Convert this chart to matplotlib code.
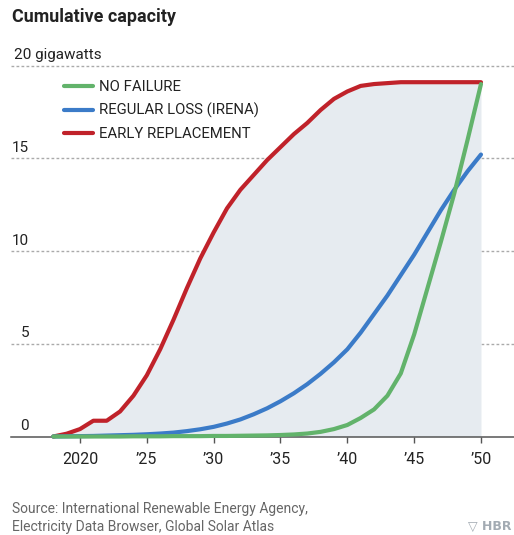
import matplotlib
matplotlib.use("Agg")
import matplotlib.pyplot as plt
import matplotlib.transforms as mtransforms
from matplotlib import font_manager

# yearly cumulative capacity, gigawatts
years = list(range(2018, 2051))
no_failure = [0.0, 0.0, 0.0, 0.0, 0.0, 0.0, 0.01, 0.01, 0.01, 0.02, 0.02,
              0.02, 0.03, 0.03, 0.04, 0.05, 0.06, 0.08, 0.11, 0.16, 0.25,
              0.4, 0.62, 1.0, 1.46, 2.2, 3.4, 5.5, 8.0, 10.5, 13.1, 16.0, 19.0]
regular_loss = [0.0, 0.01, 0.02, 0.03, 0.05, 0.07, 0.09, 0.12, 0.16, 0.21,
                0.29, 0.39, 0.52, 0.7, 0.92, 1.2, 1.52, 1.9, 2.33, 2.82, 3.38,
                4.0, 4.7, 5.6, 6.6, 7.6, 8.7, 9.8, 11.0, 12.2, 13.3, 14.3, 15.2]
early_replacement = [0.0, 0.15, 0.4, 0.85, 0.85, 1.35, 2.2, 3.3, 4.7, 6.3,
                     8.0, 9.6, 11.0, 12.3, 13.3, 14.1, 14.9, 15.6, 16.3, 16.9,
                     17.6, 18.2, 18.6, 18.9, 19.0, 19.05, 19.1, 19.1, 19.1,
                     19.1, 19.1, 19.1, 19.1]

series_names = ["NO FAILURE", "REGULAR LOSS (IRENA)", "EARLY REPLACEMENT"]
series_colors = ["#62b36b", "#3b7bc8", "#c0222a"]

xticks = [2020, 2025, 2030, 2035, 2040, 2045, 2050]
xtick_labels = ["2020", "\u201925", "\u201930", "\u201935", "\u201940",
                "\u201945", "\u201950"]
yticks = [5, 10, 15, 20]
ytick_labels = ["5", "10", "15", "20 gigawatts"]

installed = {f.name for f in font_manager.fontManager.ttflist}
narrow = "Liberation Sans Narrow" if "Liberation Sans Narrow" in installed else "Roboto"
plt.rcParams["font.family"] = ["Roboto", "DejaVu Sans"]

W, H = 514, 535
fig = plt.figure(figsize=(W / 100, H / 100), dpi=100)
ax = fig.add_axes([11 / W, (H - 436.5) / H, 1 - 11 / W, 396.5 / H])
ax.set_xlim(2014.84, 2052.47)
ax.set_ylim(0, 396.5 / 18.55)

ax.fill_between(years, early_replacement, 0, color="#e6ebf0", lw=0, zorder=1)
for vals, name, col in zip([early_replacement, regular_loss, no_failure],
                           series_names[::-1], series_colors[::-1]):
    ax.plot(years, vals, color=col, lw=3.0, label=name,
            solid_capstyle="round", solid_joinstyle="round",
            clip_on=False, zorder=3)

for s in ["top", "right", "left"]:
    ax.spines[s].set_visible(False)
ax.spines["bottom"].set_color("#555555")
ax.spines["bottom"].set_linewidth(1.1)
ax.spines["bottom"].set_zorder(2)

ax.set_yticks(yticks)
ax.tick_params(axis="y", length=0, labelleft=False)
ax.grid(axis="y", color="#aaaaaa", lw=1.0, ls=(0, (2, 1.6)))
ax.set_axisbelow(True)

ax.set_xticks(xticks)
ax.set_xticklabels(xtick_labels)
ax.tick_params(axis="x", length=4, width=1.0, color="#555555", pad=7.5,
               labelsize=11.5, labelcolor="#222222")

# value labels sit just above each gridline
trans = mtransforms.blended_transform_factory(fig.transFigure, ax.transData)
for v, lab in zip([0] + yticks, ["0"] + ytick_labels):
    if lab.endswith("gigawatts"):
        ax.text(14 / W, v + 0.35, lab, transform=trans, ha="left",
                va="baseline", fontsize=11, color="#222222", family=narrow)
    else:
        ax.text(29 / W, v + 0.35, lab, transform=trans, ha="right",
                va="baseline", fontsize=11, color="#222222", family=narrow)

handles, labels = ax.get_legend_handles_labels()
leg = ax.legend(handles[::-1], labels[::-1], loc="upper left",
                bbox_to_anchor=(64 / W, 1 - 80 / H),
                bbox_transform=fig.transFigure, frameon=False,
                borderpad=0, borderaxespad=0, handlelength=1.95,
                handletextpad=0.4, labelspacing=0.6,
                prop={"family": narrow, "size": 10.7})
for t in leg.get_texts():
    t.set_color("#222222")

fig.text(12 / W, 1 - 17 / H, "Cumulative capacity", fontsize=12.9,
         fontweight="bold", va="center", ha="left", color="#222222",
         family=narrow)
fig.text(12 / W, 1 - 509 / H,
         "Source: International Renewable Energy Agency,",
         fontsize=10, va="center", ha="left", color="#666666")
fig.text(12 / W, 1 - 527 / H, "Electricity Data Browser, Global Solar Atlas",
         fontsize=10, va="center", ha="left", color="#666666")
fig.text(512 / W, 1 - 527 / H, "\u25bd HBR", fontsize=9, fontweight="bold",
         va="center", ha="right", color="#a3abb3", family=["DejaVu Sans"])

fig.savefig("out.png", dpi=100)
